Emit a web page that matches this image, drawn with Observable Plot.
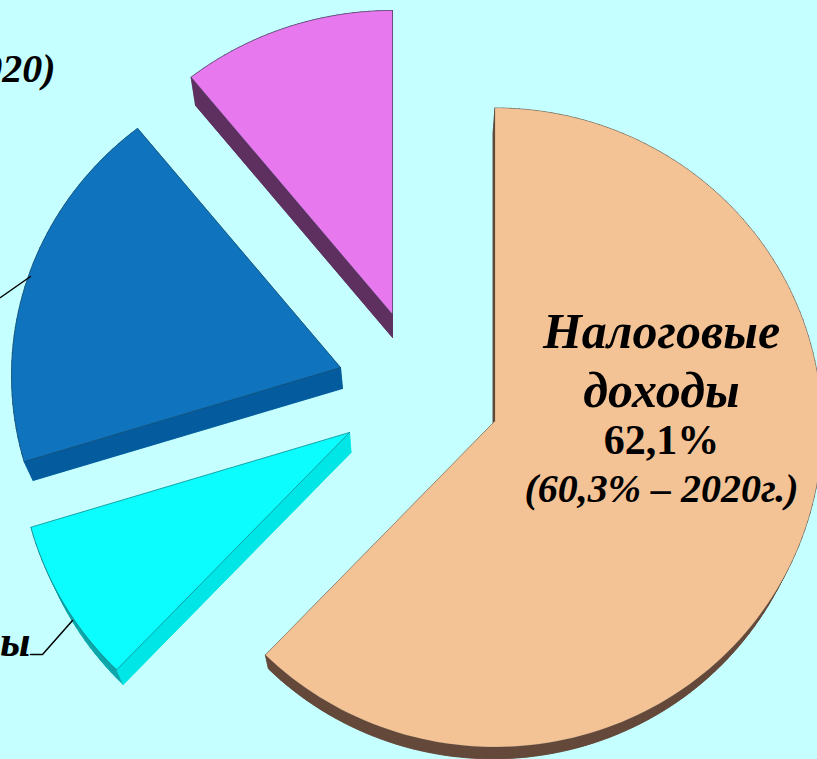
<!DOCTYPE html>
<html lang="ru">
<head>
<meta charset="utf-8">
<script src="https://cdn.jsdelivr.net/npm/d3@7"></script>
<script src="https://cdn.jsdelivr.net/npm/@observablehq/plot@0.6"></script>
<style>
html,body{margin:0;padding:0;background:#c5ffff;overflow:hidden}
#chart svg{display:block}
</style>
</head>
<body>
<div id="chart"></div>
<script>
// Data
const categories = ["Налоговые доходы", "Сегмент 2", "Сегмент 3", "Сегмент 4"];
const shares = [62.1, 8.3, 18.4, 11.2];

// Exploded-view layout of each slice (pixel space of the chart)
const tips = [[494.5, 420.5], [349, 432], [340, 367], [392, 314]];
const radii = [[327, 319.5, 6.5], [330, 318, 12], [329, 314, 8], [325, 310, 6]];
const depths = [[-2, 19], [1.5, 20], [2, 21], [0, 23]];
const endNudge = [0.9, 0, 0, 0]; // perspective skew of the boundary angle, in degrees
const topColors = ["#f3c396", "#0bfdfd", "#0f74bd", "#e878ee"];
const radialColors = ["#64493a", "#00e6e6", "#045c9e", "#5e3060"];
const rimColors = ["#64493a", "#0fa5a8", "#045c9e", "#5e3060"];
const edgeOpacity = [0.2, 0.55, 0.55, 0.55];
const PERSPECTIVE = 0.022;

const cum = d3.cumsum(shares);
function rimPoint(i, deg) {
  const [tx, ty] = tips[i], [rx, ry, off] = radii[i];
  const t = deg * Math.PI / 180, S = Math.sin(t), C = Math.cos(t);
  const a = S * S / (rx * rx) + C * C / (ry * ry);
  const b = 2 * C * off / (ry * ry);
  const c = off * off / (ry * ry) - 1;
  const s = (-b + Math.sqrt(b * b - 4 * a * c)) / (2 * a);
  return [tx + s * S, ty - s * C];
}
function outline(i) {
  const total = d3.sum(shares);
  const a0 = (i ? cum[i - 1] / total * 360 + endNudge[i - 1] : 0);
  const a1 = cum[i] / total * 360 + endNudge[i];
  const n = Math.ceil((a1 - a0) / 1.5);
  const rim = d3.range(n + 1).map(k => rimPoint(i, a0 + (a1 - a0) * k / n));
  return [tips[i], ...rim];
}
function lower(i, p) {
  return [
    p[0] + depths[i][0] + PERSPECTIVE * (tips[i][0] - p[0]),
    p[1] + depths[i][1] + PERSPECTIVE * (tips[i][1] - p[1])
  ];
}
const poly = (pts, z) => pts.map(p => ({x: p[0], y: p[1], z}));

const marks = [];
shares.forEach((_, i) => {
  const out = outline(i);
  const quads = [];
  const radial = [];
  const edge = (a, b, z, arr) => {
    const la = lower(i, a), lb = lower(i, b);
    arr.push(...poly([a, b, lb, la, a], z));
  };
  for (let k = 1; k < out.length - 1; k++) edge(out[k], out[k + 1], k, quads);
  edge(out[0], out[1], "a", radial);
  edge(out[out.length - 1], out[0], "b", radial);
  marks.push(
    Plot.line(poly(out.map(p => lower(i, p)).concat([lower(i, out[0])]), 0),
      {x: "x", y: "y", fill: radialColors[i], stroke: radialColors[i], strokeWidth: 0.5}),
    Plot.line(quads, {x: "x", y: "y", z: "z", fill: rimColors[i], stroke: rimColors[i], strokeWidth: 0.6}),
    Plot.line(radial, {x: "x", y: "y", z: "z", fill: radialColors[i], stroke: radialColors[i], strokeWidth: 0.6}),
    Plot.line(poly(out.concat([out[0]]), 0),
      {x: "x", y: "y", fill: topColors[i], stroke: "#23404a", strokeWidth: 0.8, strokeOpacity: edgeOpacity[i]})
  );
});

// Leader lines running off the left edge
const leaderA = [[30, 276], [0, 297]];
const leaderB = [[72, 620], [42, 654], [30, 654]];
[leaderA, leaderB].forEach(l => marks.push(
  Plot.line(poly(l, 0), {x: "x", y: "y", stroke: "#000", strokeWidth: 1.5})
));

const serif = "Liberation Serif";
const label = (text, x, y, size, style, anchor = "middle", extra = {}) => Plot.text([text], {
  x: () => x, y: () => y, text: d => d, fontFamily: serif, fontSize: size, fontWeight: "bold",
  fontStyle: style, fill: "#000", textAnchor: anchor, lineAnchor: "bottom", ...extra
});
marks.push(
  label("Налоговые", 661, 347, 50, "italic"),
  label("доходы", 661, 406, 50, "italic"),
  label("62,1%", 661, 453, 42, "normal"),
  label("(60,3% – 2020г.)", 661, 501, 40, "italic"),
  label("2020)", 55, 81, 40, "italic", "end"),
  label("ы", 30, 655, 44, "italic", "end")
);

const chart = Plot.plot({
  width: 817,
  height: 759,
  margin: 0,
  x: {domain: [0, 817], range: [0, 817], axis: null},
  y: {domain: [0, 759], range: [0, 759], axis: null},
  style: {background: "#c5ffff"},
  marks
});
document.getElementById("chart").append(chart);
</script>
</body>
</html>
